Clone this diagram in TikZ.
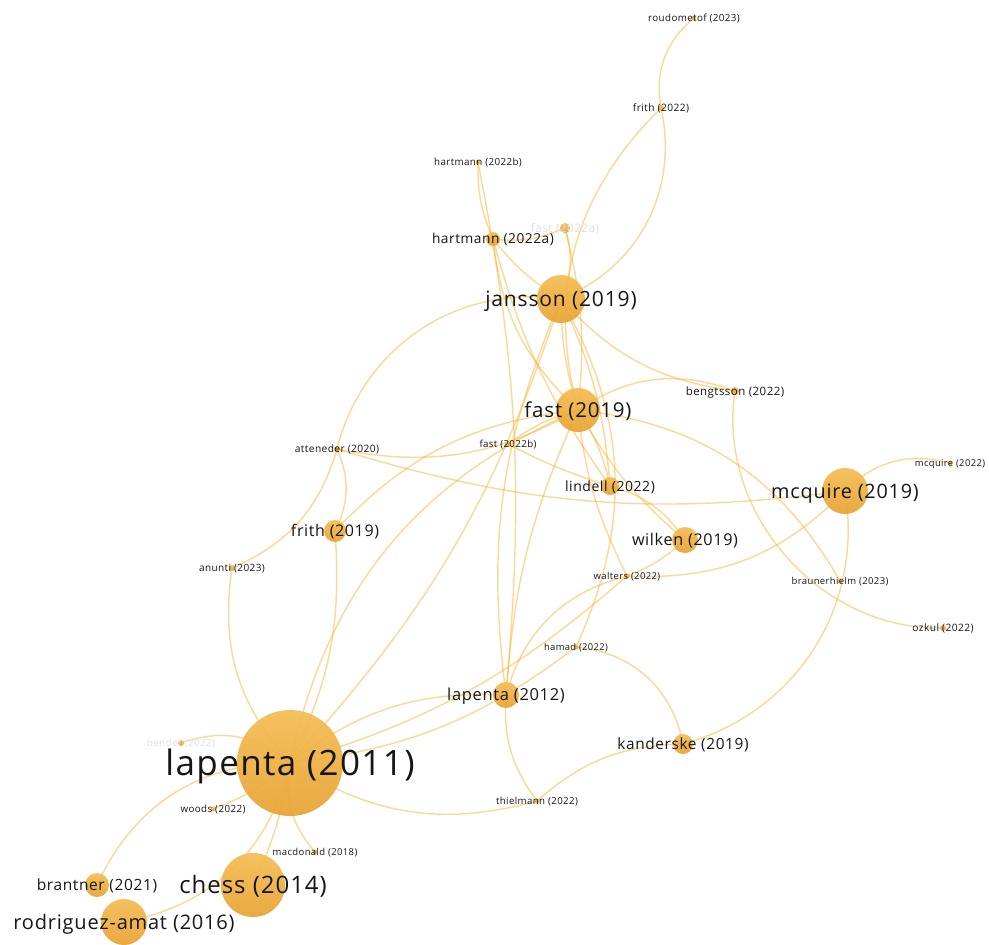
\documentclass[tikz,border=0pt]{standalone}
\usepackage{fontspec}
\setmainfont{Open Sans}[LetterSpace=4]
\pgfdeclarelayer{links}
\pgfsetlayers{links,main}

\definecolor{edgecol}{HTML}{F9B233}
\definecolor{bubtop}{HTML}{F4BD52}
\definecolor{bubbot}{HTML}{E8A232}
\definecolor{labtxt}{HTML}{161616}
\definecolor{fadetxt}{HTML}{E0E0E0}

\tikzset{
  bub/.style={circle, inner sep=0pt, minimum size=#1pt, top color=bubtop, bottom color=bubbot, fill opacity=0.92, draw=none},
  lab/.style={inner sep=0pt, anchor=base, yshift={-0.36*#1pt}, text=labtxt, font=\fontsize{#1}{#1}\selectfont},
  faded/.style={text=fadetxt},
  link/.style={draw=edgecol, line width=1.4pt, draw opacity=0.5},
}

\begin{document}
\begin{tikzpicture}[x=1pt, y=-1pt]
\useasboundingbox (0,0) rectangle (989,945);

% ---- publications (bubble size = weight) ----
\node[bub=106] (lapA)  at (290,763) {};
\node[bub=64]  (chess) at (253,885) {};
\node[bub=46]  (rodr)  at (124,922) {};
\node[bub=24]  (bran)  at (97,885)  {};
\node[bub=48]  (jans)  at (561,299) {};
\node[bub=44]  (fast)  at (578,410) {};
\node[bub=46]  (mcq)   at (845,491) {};
\node[bub=22]  (frA)   at (335,531) {};
\node[bub=18]  (lind)  at (610,486) {};
\node[bub=26]  (wilk)  at (685,540) {};
\node[bub=26]  (lapB)  at (506,695) {};
\node[bub=20]  (kand)  at (683,744) {};
\node[bub=14]  (hartA) at (493,239) {};
\node[bub=10]  (fastA) at (565,228) {};
\node[bub=5]   (hartB) at (478,162) {};
\node[bub=6]   (frB)   at (661,108) {};
\node[bub=5]   (roud)  at (694,18)  {};
\node[bub=8]   (beng)  at (735,391) {};
\node[bub=6]   (atte)  at (337,449) {};
\node[bub=6]   (fastB) at (508,444) {};
\node[bub=6]   (anun)  at (232,568) {};
\node[bub=5]   (walt)  at (627,576) {};
\node[bub=5]   (hamad) at (576,647) {};
\node[bub=5]   (thiel) at (537,801) {};
\node[bub=5]   (brau)  at (840,581) {};
\node[bub=6]   (ozkul) at (943,628) {};
\node[bub=5]   (mcqB)  at (950,463) {};
\node[bub=5]   (woods) at (213,809) {};
\node[bub=5]   (macd)  at (315,852) {};
\node[bub=6]   (bend)  at (181,743) {};

% ---- citation links, under the bubbles ----
\begin{pgfonlayer}{links}
\fill[white] (0,0) rectangle (989,945);
\draw[link] (roud.center)  to[bend right=30] (frB.center);
\draw[link] (frB.center)   to[bend left=40]  (jans.center);
\draw[link] (frB.center)   to[bend right=30] (fast.center);
\draw[link] (hartB.center) to[bend right=12] (hartA.center);
\draw[link] (hartB.center) to[bend left=8]   (lapB.center);
\draw[link] (hartA.center) to[bend right=15] (fastA.center);
\draw[link] (fastA.center) to[bend left=20]  (jans.center);
\draw[link] (hartA.center) to[bend right=10] (jans.center);
\draw[link] (hartA.center) to[bend right=20] (fast.center);
\draw[link] (hartA.center) to[bend right=10] (lind.center);
\draw[link] (jans.center)  to[bend right=8]  (fast.center);
\draw[link] (fastA.center) to[bend left=10]  (fast.center);
\draw[link] (jans.center)  to[bend right=42] (atte.center);
\draw[link] (atte.center)  to[bend left=25]  (anun.center);
\draw[link] (atte.center)  to[bend left=25]  (frA.center);
\draw[link] (atte.center)  to[bend right=20] (fast.center);
\draw[link] (atte.center)  to[bend right=12] (mcq.center);
\draw[link] (frA.center)   to[bend left=20]  (fast.center);
\draw[link] (frA.center)   to[bend left=15]  (lapA.center);
\draw[link] (lapA.center)  to[bend left=27]  (fast.center);
\draw[link] (lapA.center)  to[bend right=12] (jans.center);
\draw[link] (lapA.center)  to[bend left=20]  (lapB.center);
\draw[link] (lapA.center)  to[bend right=15] (hamad.center);
\draw[link] (lapA.center)  to[bend right=12] (walt.center);
\draw[link] (lapA.center)  to[bend right=24] (thiel.center);
\draw[link] (lapA.center)  to[bend left=25]  (anun.center);
\draw[link] (lapA.center)  to[bend right=30] (bend.center);
\draw[link] (lapA.center)  to[bend left=10]  (woods.center);
\draw[link] (lapA.center)  to[bend right=33] (bran.center);
\draw[link] (lapA.center)  to[bend left=8]   (chess.center);
\draw[link] (lapA.center)  to[bend right=25] (macd.center);
\draw[link] (lapA.center)  to[bend left=33]  (rodr.center);
\draw[link] (jans.center)  to[bend right=20] (beng.center);
\draw[link] (fast.center)  to[bend left=27]  (beng.center);
\draw[link] (beng.center)  to[bend right=50] (ozkul.center);
\draw[link] (fast.center)  to[bend left=27]  (brau.center);
\draw[link] (mcq.center)   to[bend left=42]  (kand.center);
\draw[link] (mcq.center)   to[bend left=30]  (mcqB.center);
\draw[link] (walt.center)  to[bend right=24] (mcq.center);
\draw[link] (wilk.center)  to[bend left=10]  (walt.center);
\draw[link] (lind.center)  to[bend left=20]  (wilk.center);
\draw[link] (fast.center)  to[bend left=10]  (lind.center);
\draw[link] (fastB.center) to[bend right=5]  (lind.center);
\draw[link] (fastB.center) to[bend left=10]  (fast.center);
\draw[link] (fast.center)  to[bend right=10] (walt.center);
\draw[link] (jans.center)  to[bend left=27]  (hamad.center);
\draw[link] (lapB.center)  to[bend left=30]  (walt.center);
\draw[link] (lapB.center)  to[bend left=15]  (jans.center);
\draw[link] (lapB.center)  to[bend left=10]  (fast.center);
\draw[link] (lapB.center)  to[bend right=20] (thiel.center);
\draw[link] (hamad.center) to[bend left=37]  (kand.center);
\draw[link] (kand.center)  to[bend right=20] (thiel.center);
\draw[link] (fast.center)  to[bend right=10] (wilk.center);
\draw[link] (jans.center)  to[bend left=10]  (lind.center);
\end{pgfonlayer}

% ---- labels ----
\node[lab=35] (lapAl)  at (lapA)  {lapenta (2011)};
\node[lab=24] (chessl) at (chess) {chess (2014)};
\node[lab=20] (rodrl)  at (rodr)  {rodriguez-amat (2016)};
\node[lab=15.5] (branl) at (bran) {brantner (2021)};
\node[lab=21] (jansl)  at (jans)  {jansson (2019)};
\node[lab=20.5] (fastl) at (fast) {fast (2019)};
\node[lab=19.8] (mcql) at (mcq)   {mcquire (2019)};
\node[lab=16] (frAl)   at (frA)   {frith (2019)};
\node[lab=14] (lindl)  at (lind)  {lindell (2022)};
\node[lab=16.2] (wilkl) at (wilk) {wilken (2019)};
\node[lab=16.5] (lapBl) at (lapB) {lapenta (2012)};
\node[lab=15.4] (kandl) at (kand) {kanderske (2019)};
\node[lab=13.7] (hartAl) at (hartA) {hartmann (2022a)};
\node[lab=11.7, faded] (fastAl) at (fastA) {fast (2022a)};
\node[lab=9.8] (hartBl) at (hartB) {hartmann (2022b)};
\node[lab=10.2] (frBl)  at (frB)   {frith (2022)};
\node[lab=9.8] (roudl)  at (roud)  {roudometof (2023)};
\node[lab=11.5] (bengl) at (beng)  {bengtsson (2022)};
\node[lab=10.2] (attel) at (atte)  {atteneder (2020)};
\node[lab=9.7] (fastBl) at (fastB) {fast (2022b)};
\node[lab=10] (anunl)   at (anun)  {anunti (2023)};
\node[lab=9.5] (waltl)  at (walt)  {walters (2022)};
\node[lab=9.4] (hamadl) at (hamad) {hamad (2022)};
\node[lab=9.7] (thiell) at (thiel) {thielmann (2022)};
\node[lab=9.5] (braul)  at (brau)  {braunerhielm (2023)};
\node[lab=10.2] (ozkull) at (ozkul) {ozkul (2022)};
\node[lab=9.4] (mcqBl)  at (mcqB)  {mcquire (2022)};
\node[lab=9.8] (woodsl) at (woods) {woods (2022)};
\node[lab=9.5] (macdl)  at (macd)  {macdonald (2018)};
\node[lab=9.8, faded] (bendl) at (bend) {bender (2022)};
\end{tikzpicture}
\end{document}
